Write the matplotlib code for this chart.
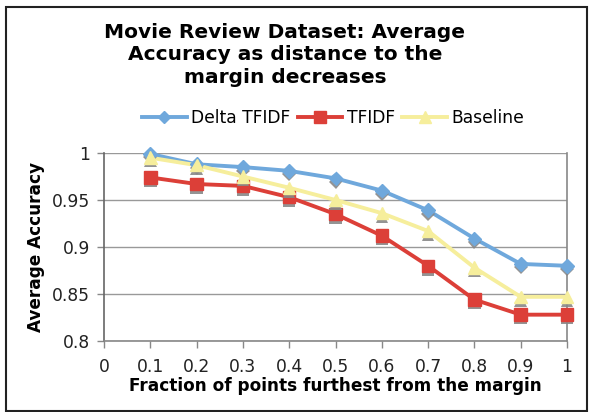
import numpy as np
import matplotlib
matplotlib.use('Agg')
import matplotlib.pyplot as plt
import matplotlib.patheffects as pe
from matplotlib.patches import Rectangle

# data
fractions = [0.1, 0.2, 0.3, 0.4, 0.5, 0.6, 0.7, 0.8, 0.9, 1.0]
delta_tfidf = [0.999, 0.988, 0.985, 0.981, 0.973, 0.960, 0.939, 0.909, 0.882, 0.880]
tfidf = [0.974, 0.967, 0.965, 0.953, 0.935, 0.912, 0.880, 0.844, 0.828, 0.828]
baseline = [0.995, 0.987, 0.975, 0.963, 0.950, 0.936, 0.917, 0.878, 0.847, 0.847]
x_ticks = [0, 0.1, 0.2, 0.3, 0.4, 0.5, 0.6, 0.7, 0.8, 0.9, 1]
x_ticklabels = ['0', '0.1', '0.2', '0.3', '0.4', '0.5', '0.6', '0.7', '0.8', '0.9', '1']
y_ticks = [0.8, 0.85, 0.9, 0.95, 1.0]
y_ticklabels = ['0.8', '0.85', '0.9', '0.95', '1']

plt.rcParams['font.family'] = ['DejaVu Sans']

fig = plt.figure(figsize=(5.9, 4.12), dpi=100)
fig.patches.append(Rectangle((6 / 590, 1.5 / 412), 581 / 590, 404 / 412,
                             transform=fig.transFigure, fill=False,
                             edgecolor='#222222', linewidth=1.5))

ax = fig.add_axes([104 / 590, 1 - 341 / 412, (567 - 104) / 590, (341 - 153) / 412])

series = [
    ('Delta TFIDF', delta_tfidf, '#6fa8dc', 'D', 7),
    ('TFIDF', tfidf, '#dc3f38', 's', 9),
    ('Baseline', baseline, '#f6ee9c', '^', 9),
]
shadow = [pe.SimplePatchShadow(offset=(0, -2.5), shadow_rgbFace='#888888', alpha=0.9), pe.Normal()]
for name, vals, color, marker, ms in series:
    ax.plot(fractions, vals, color=color, linewidth=2.8, zorder=3, clip_on=False)
    ax.plot(fractions, vals, linestyle='none', marker=marker, markersize=ms,
            color=color, markeredgecolor=color, path_effects=shadow, zorder=4,
            clip_on=False)

# legend proxies
handles = [plt.Line2D([], [], color=c, linewidth=2.8, marker=m, markersize=ms - 1)
           for _, _, c, m, ms in series]
fig.legend(handles, [s[0] for s in series], loc='center', bbox_to_anchor=(333 / 590, 1 - 118 / 412),
           ncol=3, frameon=False, fontsize=12.3, handlelength=2.6, columnspacing=0.45,
           handletextpad=0.25)

ax.set_xlim(0, 1)
ax.set_ylim(0.8, 1.0)
ax.set_xticks(x_ticks)
ax.set_xticklabels(x_ticklabels)
ax.set_yticks(y_ticks)
ax.set_yticklabels(y_ticklabels)
ax.tick_params(labelsize=12.3, length=5, width=1, colors='#888888', labelcolor='#222222')
ax.tick_params(axis='x', pad=7)
ax.tick_params(axis='y', pad=5)
ax.grid(axis='y', color='#999999', linewidth=1)
ax.set_axisbelow(True)
ax.spines['top'].set_visible(False)
for s in ['left', 'bottom', 'right']:
    ax.spines[s].set_color('#888888')
    ax.spines[s].set_linewidth(1.2)
ax.spines['left'].set_color('#666666')

ax.set_xlabel('Fraction of points furthest from the margin', fontsize=12.2,
              fontweight='bold', labelpad=1)
ax.set_ylabel('Average Accuracy', fontsize=12.2, fontweight='bold', labelpad=5)

fig.text(0.483, 1 - 55 / 412,
         'Movie Review Dataset: Average\nAccuracy as distance to the\nmargin decreases',
         ha='center', va='center', fontsize=14.5, fontweight='bold', linespacing=1.25)

fig.savefig('out.png', dpi=100)
